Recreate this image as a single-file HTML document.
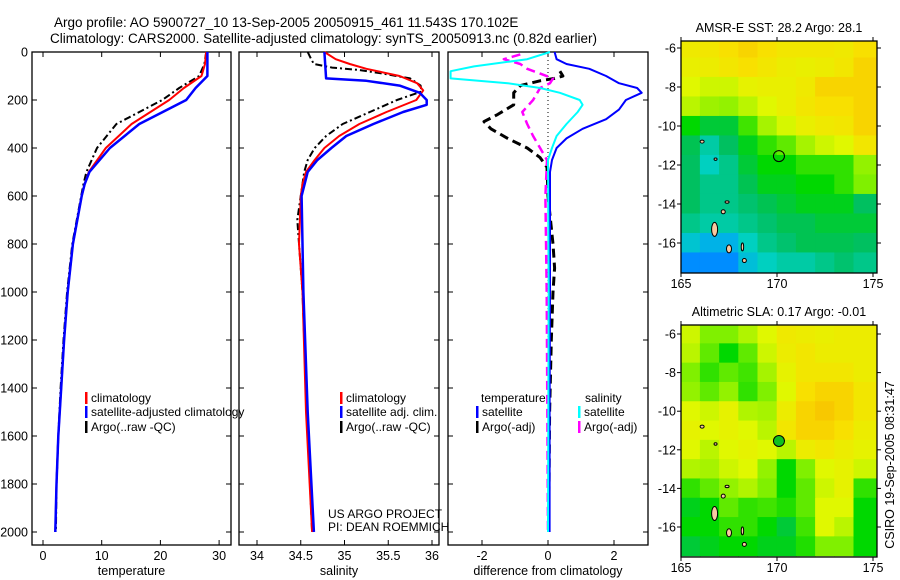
<!DOCTYPE html>
<html><head><meta charset="utf-8"><style>
html,body{margin:0;padding:0;background:#fff;}
svg{display:block;font-family:"Liberation Sans",sans-serif;}
</style></head><body>
<svg id="fig" width="900" height="580" viewBox="0 0 900 580">
<g font-size="13.5" fill="#000">
<text x="54" y="27">Argo profile: AO 5900727_10 13-Sep-2005 20050915_461 11.543S 170.102E</text>
<text x="50" y="43">Climatology: CARS2000. Satellite-adjusted climatology: synTS_20050913.nc (0.82d earlier)</text>
</g>
<g id="layer"></g>
</svg>
<script>
// ---- Temperature profiles ----
const tDepth = [0,50,100,150,200,300,400,500,550,600,800,1000,1200,1400,1600,1800,2000];
const tClim  = [27.8,27.6,27.0,24.0,21.5,15.1,10.7,7.8,7.1,6.6,5.1,4.2,3.6,3.1,2.6,2.3,2.1];
const tSat   = [28.0,28.0,28.0,26.0,24.4,16.4,11.4,7.9,7.1,6.6,5.1,4.2,3.6,3.1,2.6,2.3,2.1];
const tArgo  = [27.8,27.5,26.6,23.2,20.3,12.5,9.2,7.4,6.9,6.5,5.0,4.1,3.5,3.0,2.6,2.3,2.2];
// ---- Salinity profiles ----
const sClimDepth = [0,30,50,70,100,130,160,200,250,300,350,400,450,500,550,600,800,1000,1500,2000];
const sClim      = [34.77,34.9,35.06,35.25,35.63,35.83,35.9,35.82,35.48,35.17,34.94,34.77,34.66,34.56,34.52,34.5,34.48,34.52,34.56,34.63];
const sSatDepth  = [0,110,120,140,170,200,220,250,300,350,400,450,500,600,1000,1500,2000];
const sSat       = [34.77,34.79,35.25,35.63,35.86,35.94,35.94,35.67,35.33,35.02,34.85,34.69,34.58,34.51,34.53,34.58,34.65];
const sArgoDepth = [0,30,50,65,75,90,110,140,165,200,250,300,350,400,450,500,700,1000,1500,2000];
const sArgo      = [34.58,34.62,34.65,34.86,35.17,35.44,35.75,35.87,35.88,35.6,35.29,34.98,34.79,34.66,34.58,34.54,34.46,34.52,34.57,34.63];
// ---- Differences from climatology ----
const dTSatDepth = [0,30,50,70,100,130,150,170,200,240,280,320,360,400,450,500,1000,1500,2000];
const dTSat      = [0.2,0.26,0.56,1.25,1.76,2.15,2.7,2.84,2.36,2.15,1.76,1.05,0.56,0.26,0.12,0.06,0.06,0.05,0.05];
const dTArgoDepth = [80,100,110,120,140,170,220,260,290,320,360,400,440,480,600,800,900,1000,1200,1500,2000];
const dTArgo      = [0.36,0.45,0.2,-0.24,-0.84,-1.04,-1.04,-1.52,-1.94,-1.73,-1.22,-0.63,-0.24,-0.03,0.0,0.15,0.2,0.15,0.1,0.05,0.02];
const dSSatDepth = [0,30,60,80,110,130,150,170,200,220,250,300,350,400,450,1000,2000];
const dSSat      = [0.06,-0.63,-2.24,-2.95,-2.95,-1.22,-0.24,0.36,0.96,1.05,0.9,0.56,0.26,0.12,0.0,0.02,0.0];
const dSArgoDepth = [10,30,50,70,90,110,130,150,200,250,300,350,400,450,600,1000,2000];
const dSArgo      = [-0.84,-1.34,-0.84,-0.63,-0.24,0.15,0.06,-0.24,-0.45,-0.78,-0.63,-0.45,-0.24,-0.03,-0.08,-0.04,0.0];
// ---- Tick labels ----
const depthTicks = [0,200,400,600,800,1000,1200,1400,1600,1800,2000];
const tempTicks = [0,10,20,30];
const salTicks = [34,34.5,35,35.5,36];
const diffTicks = [-2,0,2];
const latTicks = [-6,-8,-10,-12,-14,-16];
const lonTicks = [165,170,175];
// ---- Map grids (rows lat -6..-17, cols lon 165..174), colour index 0..1 ----
const mapLats = [-6,-7,-8,-9,-10,-11,-12,-13,-14,-15,-16,-17];
const mapLons = [165,166,167,168,169,170,171,172,173,174];
const sstGrid = [
[.75,.76,.78,.80,.78,.76,.76,.76,.75,.78],
[.73,.74,.76,.78,.76,.74,.73,.74,.76,.80],
[.70,.68,.68,.72,.73,.73,.75,.80,.80,.80],
[.66,.63,.62,.66,.70,.73,.76,.78,.78,.80],
[.52,.48,.48,.56,.64,.69,.73,.75,.76,.80],
[.46,.40,.45,.50,.55,.58,.64,.68,.70,.76],
[.45,.38,.42,.48,.52,.52,.55,.55,.55,.62],
[.45,.42,.42,.46,.50,.50,.52,.52,.55,.60],
[.45,.42,.42,.44,.46,.48,.50,.50,.50,.45],
[.42,.40,.40,.42,.44,.46,.46,.48,.48,.48],
[.36,.33,.33,.38,.42,.44,.46,.46,.46,.45],
[.28,.28,.28,.35,.38,.40,.40,.42,.44,.42]];
const slaGrid = [
[.68,.60,.60,.65,.70,.75,.74,.73,.74,.74],
[.66,.58,.52,.58,.68,.74,.76,.74,.74,.74],
[.60,.55,.58,.56,.64,.72,.76,.76,.76,.74],
[.62,.58,.62,.55,.60,.70,.78,.80,.80,.76],
[.70,.68,.72,.65,.64,.74,.80,.82,.80,.76],
[.72,.70,.72,.70,.66,.76,.80,.80,.78,.74],
[.70,.66,.70,.72,.70,.66,.74,.76,.74,.72],
[.65,.64,.68,.70,.62,.52,.60,.70,.72,.68],
[.55,.58,.62,.65,.60,.52,.58,.68,.72,.55],
[.50,.52,.58,.55,.56,.54,.58,.70,.70,.52],
[.52,.52,.55,.55,.52,.48,.56,.70,.66,.52],
[.48,.50,.52,.52,.50,.50,.54,.60,.60,.52]];
const argoLon = 170.102, argoLat = -11.543;

const NS = 'http://www.w3.org/2000/svg';
const layer = document.getElementById('layer');
function mk(tag, attrs, parent){const e=document.createElementNS(NS,tag);for(const k in attrs)e.setAttribute(k,attrs[k]);(parent||layer).appendChild(e);return e;}
const P1={x0:32,x1:231}, P2={x0:239,x1:439}, P3={x0:448,x1:648}, PY0=52, PY1=545;
const yDepth = d => 52 + 0.24*d;
const xT = v => 43 + 5.87*v;
const xS = v => 257 + 87.5*(v-34);
const xD = v => 548 + 33*v;

function frame(p,name){const r=mk('rect',{x:p.x0,y:PY0,width:p.x1-p.x0,height:PY1-PY0,fill:'none',stroke:'#000','stroke-width':1.3});
}
frame(P1,'temperature-panel-frame');frame(P2,'salinity-panel-frame');frame(P3,'difference-panel-frame');

function line(x1,y1,x2,y2,name,extra){const l=mk('line',Object.assign({x1,y1,x2,y2,stroke:'#000','stroke-width':1},extra||{}));
return l;}
function text(x,y,s,name,extra){const t=mk('text',Object.assign({x,y,'font-size':12.5,fill:'#000'},extra||{}));t.textContent=s;
return t;}

depthTicks.forEach(d=>{const y=yDepth(d);
 line(P1.x0,y,P1.x0+5,y,'depth-tick');line(P1.x1,y,P1.x1-5,y,'depth-tick');
 line(P2.x0,y,P2.x0+5,y,'depth-tick');line(P2.x1,y,P2.x1-5,y,'depth-tick');
 line(P3.x0,y,P3.x0+5,y,'depth-tick');line(P3.x1,y,P3.x1-5,y,'depth-tick');
 text(28,y+4.5,String(d),'depth-tick-label',{'text-anchor':'end'});});
function xticks(arr,fx,p,name){arr.forEach(v=>{const x=fx(v);
 line(x,PY1,x,PY1-5,name+'-tick');line(x,PY0,x,PY0+5,name+'-tick');
 text(x,560,String(v),name+'-tick-label',{'text-anchor':'middle'});});}
xticks(tempTicks,xT,P1,'temperature');xticks(salTicks,xS,P2,'salinity');xticks(diffTicks,xD,P3,'difference');
text((P1.x0+P1.x1)/2,575,'temperature','x-axis-title-temperature',{'text-anchor':'middle'});
text((P2.x0+P2.x1)/2,575,'salinity','x-axis-title-salinity',{'text-anchor':'middle'});
text((P3.x0+P3.x1)/2,575,'difference from climatology','x-axis-title-difference',{'text-anchor':'middle'});
line(xD(0),yDepth(0),xD(0),yDepth(2000),'zero-line',{'stroke-dasharray':'1,3'});

function series(depths,vals,fx,color,w,dash,name){
 const pts=depths.map((d,i)=>fx(vals[i]).toFixed(1)+','+yDepth(d).toFixed(1)).join(' ');
 const a={points:pts,fill:'none',stroke:color,'stroke-width':w,'stroke-linejoin':'round'};
 if(dash)a['stroke-dasharray']=dash;
 const p=mk('polyline',a);return p;}
series(tDepth,tArgo,xT,'#000',2,'7,3,2,3','temperature-argo-line');
series(tDepth,tClim,xT,'#f00',2,null,'temperature-climatology-line');
series(tDepth,tSat,xT,'#00f',2.5,null,'temperature-satellite-line');
series(sArgoDepth,sArgo,xS,'#000',2,'7,3,2,3','salinity-argo-line');
series(sClimDepth,sClim,xS,'#f00',2,null,'salinity-climatology-line');
series(sSatDepth,sSat,xS,'#00f',2.5,null,'salinity-satellite-line');
series(dTArgoDepth,dTArgo,xD,'#000',3,'9,5','temperature-argo-diff-line');
series(dSArgoDepth,dSArgo,xD,'#f0f',2.5,'9,5','salinity-argo-diff-line');
series(dTSatDepth,dTSat,xD,'#00f',2,null,'temperature-satellite-diff-line');
series(dSSatDepth,dSSat,xD,'#0ff',2,null,'salinity-satellite-diff-line');

function legItem(x,y,color,label,name){const r=mk('rect',{x:x,y:y-10,width:2.5,height:12,fill:color});
 
 text(x+6,y,label,name,{'font-size':12});}
legItem(85,402,'#f00','climatology','legend-climatology');
legItem(85,416,'#00f','satellite-adjusted climatology','legend-satellite');
legItem(85,431,'#000','Argo(..raw -QC)','legend-argo');
legItem(340,402,'#f00','climatology','legend2-climatology');
legItem(340,416,'#00f','satellite adj. clim.','legend2-satellite');
legItem(340,431,'#000','Argo(..raw -QC)','legend2-argo');
text(481,402,'temperature','legend3-temperature-header',{'font-size':12});
text(585,402,'salinity','legend3-salinity-header',{'font-size':12});
legItem(476,416,'#00f','satellite','legend3-temp-satellite');
legItem(476,431,'#000','Argo(-adj)','legend3-temp-argo');
legItem(578,416,'#0ff','satellite','legend3-sal-satellite');
legItem(578,431,'#f0f','Argo(-adj)','legend3-sal-argo');
text(328,518,'US ARGO PROJECT','credit-project',{'font-size':12});
text(328,531,'PI: DEAN ROEMMICH','credit-pi',{'font-size':12});

const stops=[[0.2,[0,64,255]],[0.3,[0,160,255]],[0.38,[0,208,192]],[0.45,[0,192,96]],[0.52,[0,216,0]],[0.6,[128,240,0]],[0.7,[224,248,0]],[0.78,[248,224,0]],[0.86,[248,176,0]]];
function cmap(v){if(v<=stops[0][0])return 'rgb('+stops[0][1]+')';
 for(let i=1;i<stops.length;i++){if(v<=stops[i][0]){const [a,ca]=stops[i-1],[b,cb]=stops[i];const t=(v-a)/(b-a);
 return 'rgb('+ca.map((c,k)=>Math.round(c+(cb[k]-c)*t)).join(',')+')';}}
 return 'rgb('+stops[stops.length-1][1]+')';}
function drawMap(M,grid,title,filled,nm){
 const xL=lon=>M.x0+(lon-165)*19.2, yL=lat=>M.y6+(-6-lat)*M.k;
 const cid='clip-'+nm;const cp=mk('clipPath',{id:cid});mk('rect',{x:M.x0,y:M.y0,width:M.x1-M.x0,height:M.y1-M.y0},cp);
 const g=mk('g',{'clip-path':'url(#'+cid+')'});
 mapLats.forEach((lat,i)=>mapLons.forEach((lon,j)=>{
  const c=mk('rect',{x:xL(lon)-0.3,y:yL(lat+0.5)-0.3,width:19.8,height:M.k+0.6,fill:cmap(grid[i][j])},g);
  
  if(j===mapLons.length-1){const c2=mk('rect',{x:xL(lon+1)-0.3,y:yL(lat+0.5)-0.3,width:19.8,height:M.k+0.6,fill:cmap(grid[i][j])},g);
   }
 }));
 [[166.75,-15.3,3,7],[167.5,-16.3,2.5,4],[168.2,-16.2,1.2,4],[168.3,-16.9,2,2],[166.1,-10.8,2,1.5],[167.2,-14.4,2,2],[167.4,-13.9,2,1.2],[166.8,-11.7,1.5,1.2]].forEach(s=>{
  const e=mk('ellipse',{cx:xL(s[0]),cy:yL(s[1]),rx:s[2],ry:s[3],fill:'#f8c8a0',stroke:'#000','stroke-width':1},g);
  });
 const ci=mk('circle',{cx:xL(argoLon),cy:yL(argoLat),r:5.5,fill:filled?'#10c020':'none',stroke:'#000','stroke-width':1});
 
 const fr=mk('rect',{x:M.x0,y:M.y0,width:M.x1-M.x0,height:M.y1-M.y0,fill:'none',stroke:'#000','stroke-width':1.3});
 
 latTicks.forEach(lat=>{const y=yL(lat);line(M.x0,y,M.x0-4,y,nm+'-lat-tick');line(M.x1,y,M.x1+4,y,nm+'-lat-tick');
  text(M.x0-5,y+4.5,String(lat),nm+'-lat-label',{'text-anchor':'end'});});
 lonTicks.forEach(lon=>{const x=xL(lon);line(x,M.y0,x,M.y0-4,nm+'-lon-tick');line(x,M.y1,x,M.y1+4,nm+'-lon-tick');
  text(x,M.y1+15,String(lon),nm+'-lon-label',{'text-anchor':'middle'});});
 text((M.x0+M.x1)/2,M.y0-9,title,nm+'-title',{'text-anchor':'middle','font-size':12.5});
}
drawMap({x0:681,x1:877,y0:41,y1:273,y6:48,k:19.5},sstGrid,'AMSR-E SST: 28.2 Argo: 28.1',false,'sst-map');
drawMap({x0:681,x1:877,y0:325,y1:557,y6:334,k:19.3},slaGrid,'Altimetric SLA: 0.17 Argo: -0.01',true,'sla-map');
text(0,0,'CSIRO 19-Sep-2005 08:31:47','timestamp',{transform:'translate(894,465) rotate(-90)','text-anchor':'middle','font-size':12.5});
</script>
</body></html>
